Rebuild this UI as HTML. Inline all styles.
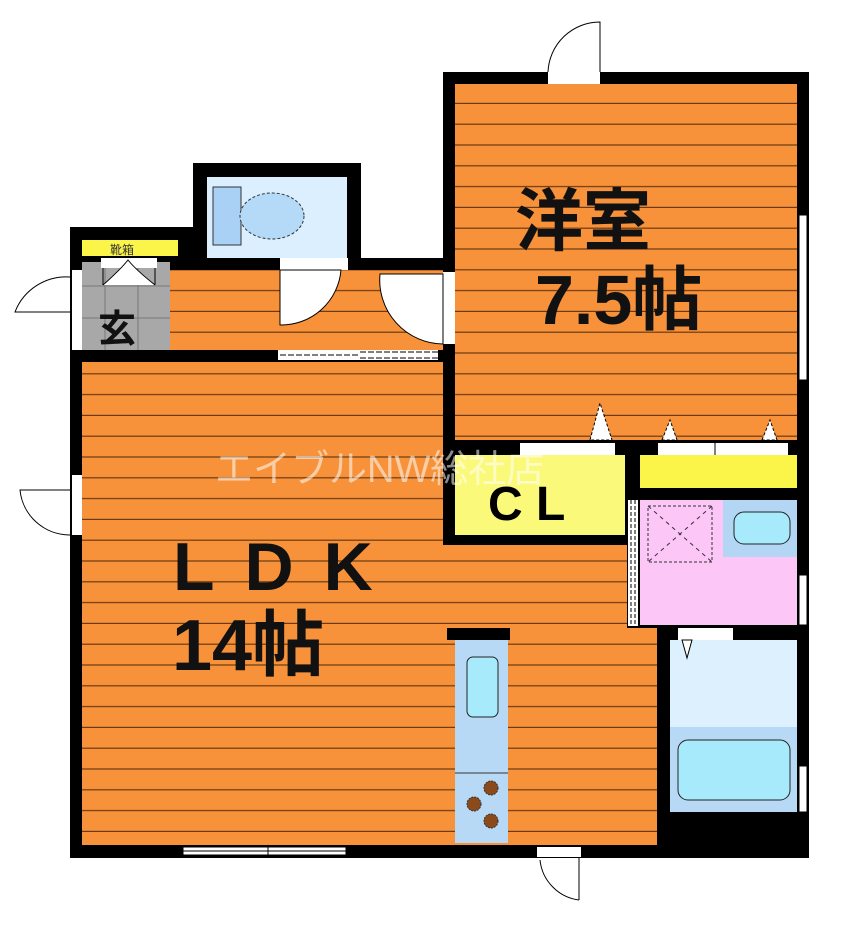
<!DOCTYPE html>
<html><head><meta charset="utf-8"><style>
html,body{margin:0;padding:0;background:#fff;width:846px;height:927px;overflow:hidden}
svg{display:block}
text{font-family:"Liberation Sans","Noto Sans CJK JP",sans-serif}
</style></head><body>
<svg width="846" height="927" viewBox="0 0 846 927" xmlns="http://www.w3.org/2000/svg">
<defs>
<pattern id="fl" patternUnits="userSpaceOnUse" width="10" height="20.8" y="0">
<rect width="10" height="20.8" fill="#f7923a"/>
<rect y="19.6" width="10" height="1.3" fill="#6b3a12"/>
</pattern>
</defs>
<rect x="443" y="72" width="366" height="380" fill="#000"/>
<rect x="70" y="227" width="124" height="135" fill="#000"/>
<rect x="193" y="163" width="168" height="110" fill="#000"/>
<rect x="190" y="258" width="265" height="104" fill="#000"/>
<rect x="70" y="350" width="385" height="508" fill="#000"/>
<rect x="443" y="440" width="366" height="418" fill="#000"/>
<rect x="455" y="84" width="342" height="356" fill="url(#fl)"/>
<rect x="170" y="270" width="273" height="80" fill="url(#fl)"/>
<rect x="82" y="262" width="88" height="88" fill="#a8a8a8"/>
<path d="M82 286H170M82 318H170M105 262V350M138 262V350" stroke="#777" stroke-width="1"/>
<text x="98" y="342" font-size="38" font-weight="bold" fill="#111">玄</text>
<rect x="82" y="240" width="96" height="16" fill="#fbf54a"/>
<text x="110" y="254" font-size="12" fill="#333">靴箱</text>
<rect x="101" y="258" width="56" height="10" fill="#fff"/>
<path d="M103 268V285M155 268V285M103 285Q120 270 128 260Q136 270 155 285" fill="#fff" stroke="#000" stroke-width="1"/>
<rect x="207" y="177" width="140" height="81" fill="#dcefff"/>
<rect x="213" y="187" width="28" height="58" fill="#a8d1f5" stroke="#333"/>
<ellipse cx="272" cy="216" rx="32" ry="23" fill="#b4daf7" stroke="#333" stroke-dasharray="3,2"/>
<rect x="280" y="258" width="68" height="12" fill="#fff"/>
<path d="M280 270V325A60 60 0 0 0 341 270Z" fill="#fff" stroke="#000" stroke-width="1"/>
<rect x="443" y="272" width="12" height="72" fill="#fff"/>
<path d="M443 274H380A64 64 0 0 0 443 344Z" fill="#fff" stroke="#000" stroke-width="1"/>
<rect x="82" y="362" width="361" height="483" fill="url(#fl)"/>
<rect x="443" y="545" width="184" height="83" fill="url(#fl)"/>
<rect x="443" y="628" width="214" height="217" fill="url(#fl)"/>
<rect x="278" y="350" width="160" height="10" fill="#fff"/>
<path d="M280 355H360M360 352H438M360 358H438" stroke="#000" stroke-width="1" stroke-dasharray="6,2"/>
<rect x="455" y="455" width="170" height="80" fill="#fbf97a"/>
<text x="488" y="520" font-size="48" font-weight="bold" fill="#000">C L</text>
<rect x="520" y="443" width="95" height="12" fill="#fff"/>
<path d="M590 440L600 403L612 440Z" fill="#fff" stroke="#000" stroke-dasharray="3,2"/>
<rect x="640" y="455" width="157" height="33" fill="#fbf54a"/>
<rect x="658" y="443" width="130" height="12" fill="#fff"/>
<path d="M715 443V455" stroke="#000"/>
<path d="M662 440L670 420L677 440ZM762 440L770 420L777 440Z" fill="#fff" stroke="#000" stroke-dasharray="3,2"/>
<rect x="640" y="500" width="157" height="125" fill="#fcc6f7"/>
<rect x="723" y="500" width="74" height="57" fill="#b4d6f5"/>
<rect x="734" y="512" width="56" height="32" rx="10" fill="#a6eafc" stroke="#222"/>
<rect x="648" y="506" width="64" height="56" fill="none" stroke="#333" stroke-dasharray="3,2"/>
<path d="M648 506L712 562M712 506L648 562" stroke="#333" stroke-dasharray="4,4"/>
<rect x="628" y="500" width="10" height="126" fill="#fff"/>
<path d="M631 500V626M635 500V626" stroke="#000" stroke-width="1" stroke-dasharray="4,2"/>
<rect x="670" y="640" width="127" height="172" fill="#ddf0fe"/>
<rect x="670" y="727" width="127" height="85" fill="#b8d9f6"/>
<rect x="678" y="740" width="112" height="60" rx="10" fill="#a6eafc" stroke="#222"/>
<rect x="678" y="628" width="55" height="12" fill="#fff"/>
<path d="M682 640L687 658L692 640Z" fill="#fff" stroke="#000"/>
<rect x="447" y="628" width="63" height="12" fill="#000"/>
<rect x="455" y="640" width="53" height="203" fill="#b8d9f6"/>
<rect x="467" y="657" width="31" height="60" rx="6" fill="#a6eafc" stroke="#222"/>
<path d="M455 773H508" stroke="#333"/>
<circle cx="491" cy="788" r="7" fill="#8a4a1a" stroke="#333" stroke-dasharray="2,1"/>
<circle cx="474" cy="804" r="7" fill="#8a4a1a" stroke="#333" stroke-dasharray="2,1"/>
<circle cx="491" cy="821" r="7" fill="#8a4a1a" stroke="#333" stroke-dasharray="2,1"/>
<rect x="799" y="215" width="8" height="165" fill="#fff" stroke="#000"/>
<rect x="799" y="575" width="8" height="50" fill="#fff" stroke="#000"/>
<rect x="799" y="766" width="8" height="46" fill="#fff" stroke="#000"/>
<rect x="183" y="847" width="163" height="8" fill="#fff" stroke="#000"/>
<path d="M183 851H346M268 847V855" stroke="#000"/>
<rect x="548" y="72" width="52" height="12" fill="#fff"/>
<path d="M600 72V22A52 52 0 0 0 548 72" fill="none" stroke="#000"/>
<rect x="72" y="270" width="10" height="80" fill="#fff"/>
<path d="M70 277A55 55 0 0 0 15 312H70" fill="none" stroke="#000"/>
<rect x="72" y="475" width="10" height="60" fill="#fff"/>
<path d="M70 490H20A50 50 0 0 0 70 535" fill="none" stroke="#000"/>
<rect x="537" y="847" width="44" height="10" fill="#fff"/>
<path d="M579 857V900M540 860A45 45 0 0 0 579 900" fill="none" stroke="#000"/>
<text x="515" y="245" font-size="68" font-weight="bold" fill="#111">洋室</text>
<text x="535" y="324" font-size="70" font-weight="bold" fill="#111">7.5帖</text>
<text x="173" y="590" font-size="68" font-weight="bold" fill="#111" letter-spacing="30">LDK</text>
<text x="172" y="670" font-size="72" font-weight="bold" fill="#111">14帖</text>
<text x="215" y="482" font-size="38" fill="#fff" fill-opacity="0.55">エイブルNW総社店</text>
</svg>
</body></html>
